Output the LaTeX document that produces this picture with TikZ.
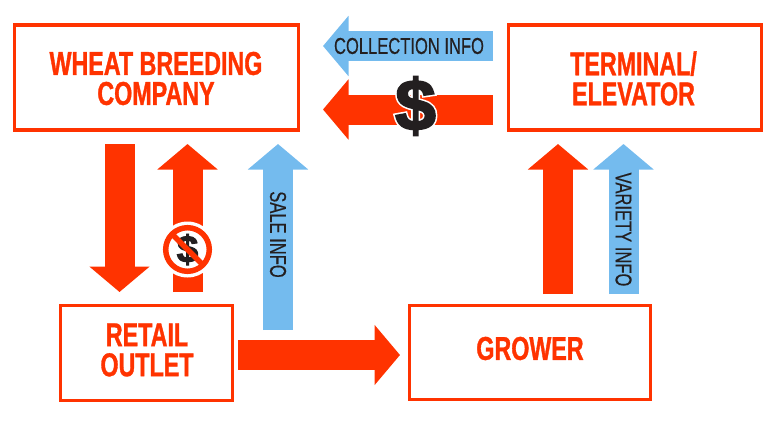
\documentclass[tikz,border=0pt]{standalone}
\usepackage{fontspec}
\setmainfont{Liberation Sans}
\newfontfamily\headfont[FakeStretch=0.705,FakeBold=1]{Liberation Sans}
\newfontfamily\infofont[FakeStretch=0.72,FakeBold=0.35]{Liberation Sans}
\newfontfamily\dollarfont[FakeStretch=1.02,FakeBold=2.6]{Liberation Sans}
\newfontfamily\haloddollar[FakeStretch=1.02,FakeBold=7]{Liberation Sans}
\usetikzlibrary{arrows.meta}
\definecolor{hot}{RGB}{255,51,0}
\definecolor{sky}{RGB}{116,187,238}
\definecolor{ink}{RGB}{35,31,32}
\tikzset{
  box/.style={draw=hot,line width=3.4pt,fill=white,inner sep=0pt,align=center,text=hot,
    font=\headfont\bfseries\fontsize{33}{30}\selectfont},
  redarrow/.style={draw=hot,line width=30pt,-{Triangle[length=25.5pt,width=59pt,fill=hot]}},
  bluearrow/.style={draw=sky,line width=30pt,-{Triangle[length=25.5pt,width=59pt,fill=sky]}},
  infolabel/.style={text=ink,inner sep=0pt,font=\infofont\fontsize{23}{24}\selectfont},
}
\begin{document}
\begin{tikzpicture}[x=1pt,y=-1pt]
\useasboundingbox (0,0) rectangle (783,424);
% boxes
\node[box,minimum width=284pt,minimum height=105pt] (wbc) at (156.5,77.5) {};
\node[box,minimum width=253pt,minimum height=105pt] (term) at (635,77.5) {};
\node[box,minimum width=172pt,minimum height=95pt] (retail) at (146.5,353) {};
\node[box,minimum width=241pt,minimum height=94pt] (grower) at (530,352.5) {};
\node[box,draw=none,fill=none] (wbct) at (156,78.5) {WHEAT BREEDING\\COMPANY};
\node[box,draw=none,fill=none] (termt) at (633.5,78.5) {TERMINAL/\\ELEVATOR};
\node[box,draw=none,fill=none] (retailt) at (147,350) {RETAIL\\OUTLET};
\node[box,draw=none,fill=none] (growert) at (530,348.5) {GROWER};
% free ends of the block arrows
\coordinate (ca) at (493,46);   \coordinate (cb) at (323,46);
\coordinate (ma) at (493,109.5); \coordinate (mb) at (323,109.5);
\coordinate (da) at (119.5,144); \coordinate (db) at (119.5,292);
\coordinate (ua) at (187.5,292); \coordinate (ub) at (187.5,144);
\coordinate (sa) at (278,330);  \coordinate (sb) at (278,144);
\coordinate (ra) at (238,355);  \coordinate (rb) at (400,355);
\coordinate (ga) at (558,294);  \coordinate (gb) at (558,144);
\coordinate (va) at (623.5,294); \coordinate (vb) at (623.5,144);
% block arrows
\draw[bluearrow] (ca) -- (cb);
\draw[redarrow] (ma) -- (mb);
\draw[redarrow] (da) -- (db);
\draw[redarrow] (ua) -- (ub);
\draw[bluearrow] (sa) -- (sb);
\draw[redarrow] (ra) -- (rb);
\draw[redarrow] (ga) -- (gb);
\draw[bluearrow] (va) -- (vb);
% labels on arrows
\node[infolabel] (collect) at (409,46) {COLLECTION INFO};
\node[infolabel,rotate=-90] (sale) at (278,234.5) {SALE INFO};
\node[infolabel,rotate=-90] (variety) at (623.5,229.5) {VARIETY INFO};
% large dollar with white edge
\node[text=white,inner sep=0pt,font=\haloddollar\bfseries\fontsize{72}{72}\selectfont] (bighalo) at (415.5,106) {\$};
\node[text=ink,inner sep=0pt,font=\dollarfont\bfseries\fontsize{72}{72}\selectfont] (bigdollar) at (415.5,106) {\$};
% no-money sign
\fill[white] (187.5,249.5) circle (28pt);
\node[text=ink,inner sep=0pt,font=\dollarfont\bfseries\fontsize{38}{38}\selectfont] (smalldollar) at (187.5,249.5) {\$};
\draw[hot,line width=5.5pt] (187.5,249.5) circle (21.8pt);
\draw[hot,line width=5.5pt] (172,234) -- (203,265);
\end{tikzpicture}
\end{document}
